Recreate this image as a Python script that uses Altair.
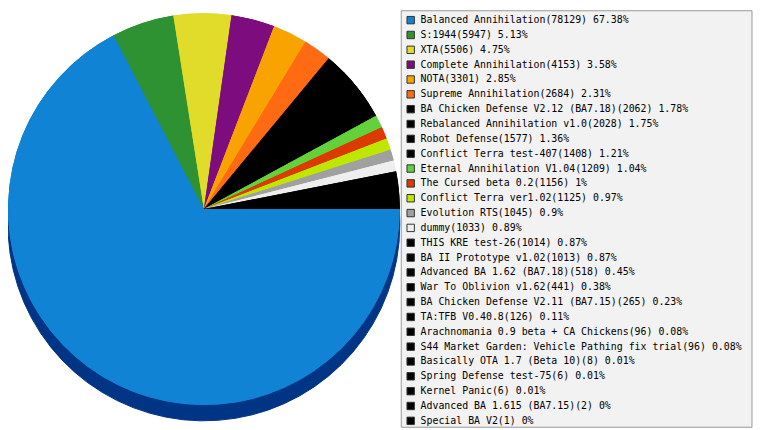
import altair as alt
import pandas as pd

names = [
    "Balanced Annihilation", "S:1944", "XTA", "Complete Annihilation", "NOTA",
    "Supreme Annihilation", "BA Chicken Defense V2.12 (BA7.18)",
    "Rebalanced Annihilation v1.0", "Robot Defense", "Conflict Terra test-407",
    "Eternal Annihilation V1.04", "The Cursed beta 0.2", "Conflict Terra ver1.02",
    "Evolution RTS", "dummy", "THIS KRE test-26", "BA II Prototype v1.02",
    "Advanced BA 1.62 (BA7.18)", "War To Oblivion v1.62",
    "BA Chicken Defense V2.11 (BA7.15)", "TA:TFB V0.40.8",
    "Arachnomania 0.9 beta + CA Chickens",
    "S44 Market Garden: Vehicle Pathing fix trial",
    "Basically OTA 1.7 (Beta 10)", "Spring Defense test-75", "Kernel Panic",
    "Advanced BA 1.615 (BA7.15)", "Special BA V2",
]
counts = [78129, 5947, 5506, 4153, 3301, 2684, 2062, 2028, 1577, 1408, 1209,
          1156, 1125, 1045, 1033, 1014, 1013, 518, 441, 265, 126, 96, 96, 8,
          6, 6, 2, 1]
percents = ["67.38", "5.13", "4.75", "3.58", "2.85", "2.31", "1.78", "1.75",
            "1.36", "1.21", "1.04", "1", "0.97", "0.9", "0.89", "0.87", "0.87",
            "0.45", "0.38", "0.23", "0.11", "0.08", "0.08", "0.01", "0.01",
            "0.01", "0", "0"]
colors = ["#1083d4", "#2e9232", "#e0dc29", "#7d0c7e", "#f8a300", "#ff6a12",
          "#000000", "#000000", "#000000", "#000000", "#63d13a", "#dc3a00",
          "#bde600", "#a0a0a0", "#eeeeee", "#000000", "#000000", "#000000",
          "#000000", "#000000", "#000000", "#000000", "#000000", "#000000",
          "#000000", "#000000", "#000000", "#000000"]

labels = [f"{n}({c}) {p}%" for n, c, p in zip(names, counts, percents)]
df = pd.DataFrame({"label": labels, "edge": labels, "count": counts,
                   "idx": list(range(len(labels)))})

CX, CY, R, DEPTH = 198, 201, 198, 16
theta_scale = alt.Scale(range=[1.5707963, 7.8539816])

base = alt.Chart(df)

shadow = base.mark_arc(outerRadius=R, color="#003585", stroke="#003585",
                       strokeWidth=1).encode(
    theta=alt.Theta("count:Q", scale=theta_scale, stack=True),
    order=alt.Order("idx:Q"),
    x=alt.value(CX),
    y=alt.value(CY + DEPTH),
)

# underlay in the same colours, stroked, so slice seams do not show white
under = base.mark_arc(outerRadius=R - 0.5, strokeWidth=1).encode(
    theta=alt.Theta("count:Q", scale=theta_scale, stack=True),
    order=alt.Order("idx:Q"),
    x=alt.value(CX),
    y=alt.value(CY),
    fill=alt.Fill("edge:N", scale=alt.Scale(domain=labels, range=colors), legend=None),
    stroke=alt.Stroke("edge:N", scale=alt.Scale(domain=labels, range=colors), legend=None),
)

pie = base.mark_arc(outerRadius=R).encode(
    theta=alt.Theta("count:Q", scale=theta_scale, stack=True),
    order=alt.Order("idx:Q"),
    x=alt.value(CX),
    y=alt.value(CY),
    color=alt.Color(
        "label:N",
        scale=alt.Scale(domain=labels, range=colors),
        sort=labels,
        legend=alt.Legend(
            title=None, orient="none", legendX=397, legendY=0,
            symbolType="square", symbolSize=56, symbolStrokeColor="#333333",
            symbolStrokeWidth=1,
            labelFont="DejaVu Sans Mono", labelFontSize=10,
            labelColor="#000000", labelLimit=600, rowPadding=3, labelOffset=5,
            padding=5, symbolLimit=40,
        ),
    ),
)

box = alt.Chart(pd.DataFrame({"a": [0]})).mark_rect(
    fill="#f2f2f2", stroke="#999999", strokeWidth=1
).encode(x=alt.value(397.5), x2=alt.value(752), y=alt.value(0.5), y2=alt.value(421.5))

chart = alt.layer(shadow, under, pie, box).resolve_scale(
    fill="independent", stroke="independent"
).properties(
    width=753, height=422, padding=0, autosize=alt.AutoSizeParams(type="none")
).configure_view(stroke=None)

chart.save("out.html", embed_options={"renderer": "svg", "actions": False})
